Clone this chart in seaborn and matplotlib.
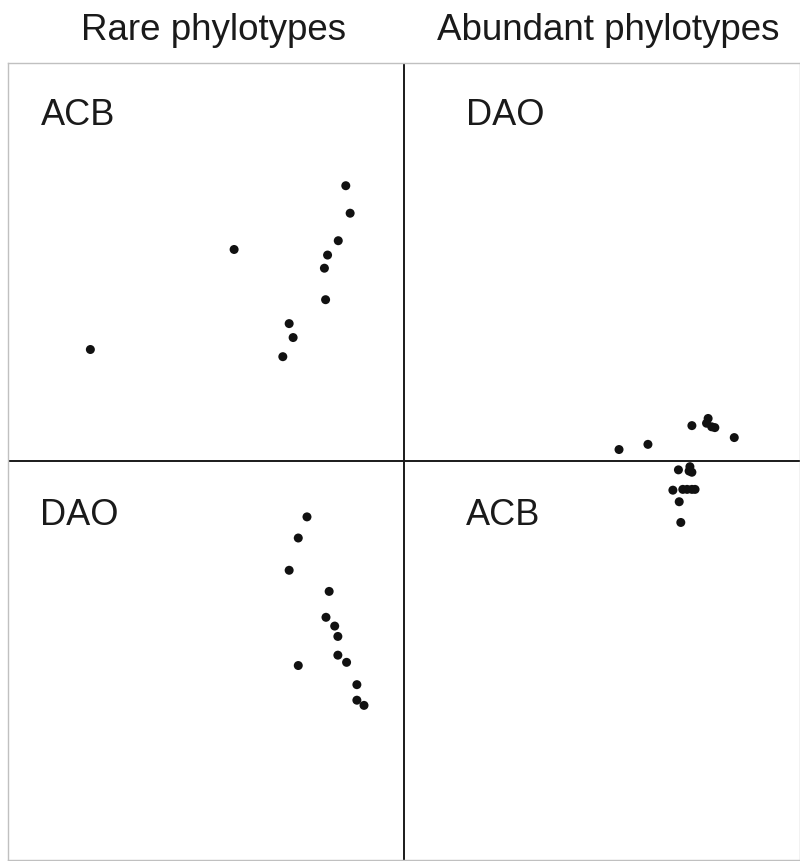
import matplotlib
matplotlib.use("Agg")
import matplotlib.pyplot as plt
import pandas as pd
import seaborn as sns

sns.set_theme(style="white")
plt.rcParams["font.family"] = ["Liberation Sans", "DejaVu Sans"]

# ordination scores (cross at 0,0)
rare_x = [-0.147, -0.136, -0.166, -0.193, -0.201, -0.198, -0.429, -0.290, -0.280, -0.306, -0.792,
          -0.245, -0.267, -0.290, -0.189, -0.197, -0.175, -0.167, -0.167, -0.145, -0.267, -0.119, -0.119, -0.101]
rare_y = [0.692, 0.623, 0.554, 0.518, 0.485, 0.406, 0.532, 0.346, 0.311, 0.263, 0.281,
          -0.139, -0.192, -0.273, -0.326, -0.391, -0.413, -0.439, -0.486, -0.504, -0.512, -0.560, -0.599, -0.612]
abund_x = [0.543, 0.616, 0.727, 0.768, 0.764, 0.785, 0.777, 0.834,
           0.693, 0.722, 0.720, 0.727, 0.679, 0.704, 0.715, 0.727, 0.735, 0.695, 0.699]
abund_y = [0.030, 0.043, 0.090, 0.108, 0.096, 0.085, 0.087, 0.060,
           -0.021, -0.013, -0.024, -0.027, -0.072, -0.070, -0.070, -0.070, -0.070, -0.101, -0.153]

titles = ["Rare phylotypes", "Abundant phylotypes"]
quadrant_labels = ["ACB", "DAO", "DAO", "ACB"]  # top-left, bottom-left, top-right, bottom-right

df = pd.concat([
    pd.DataFrame({"x": rare_x, "y": rare_y, "group": "rare"}),
    pd.DataFrame({"x": abund_x, "y": abund_y, "group": "abundant"}),
], ignore_index=True)

fig = plt.figure(figsize=(8, 8.61), dpi=100)
ax = fig.add_axes([0.01, 0.00116, 0.99, 0.9257])

sns.scatterplot(data=df, x="x", y="y", hue="group", palette={"rare": "#111111", "abundant": "#111111"},
                s=42, edgecolor="none", legend=False, ax=ax)

ax.axhline(0, color="#1a1a1a", lw=1.4, zorder=0)
ax.axvline(0, color="#1a1a1a", lw=1.4, zorder=0)
ax.set_xlim(-1, 1)
ax.set_ylim(-1, 1)
ax.set_xticks([])
ax.set_yticks([])
ax.set_xlabel("")
ax.set_ylabel("")
for sp in ax.spines.values():
    sp.set_color("#c0c0c0")
    sp.set_linewidth(1)

# quadrant labels
pos = [(0.041, 0.922), (0.041, 0.420), (0.578, 0.922), (0.578, 0.420)]
for (px, py), lab in zip(pos, quadrant_labels):
    ax.text(px, py, lab, transform=ax.transAxes, fontsize=26, color="#1a1a1a",
            ha="left", va="baseline")

fig.text(0.267, 0.953, titles[0], ha="center", va="baseline", fontsize=26.5, color="#1a1a1a")
fig.text(0.760, 0.953, titles[1], ha="center", va="baseline", fontsize=26.5, color="#1a1a1a")

fig.savefig("out.png", dpi=100)
